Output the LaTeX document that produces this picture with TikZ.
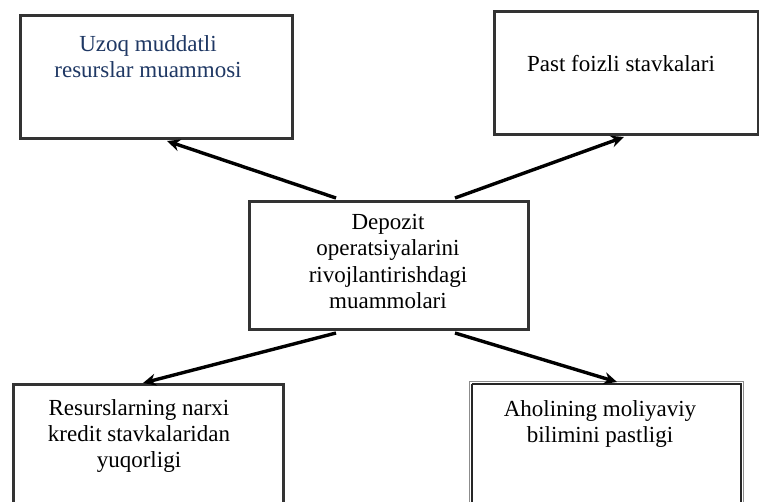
\documentclass[tikz,border=0pt]{standalone}
\usepackage{fontspec}
\setmainfont{Liberation Serif}
\usetikzlibrary{calc,arrows.meta}
\definecolor{navy}{RGB}{31,56,100}
\tikzset{
  box/.style={draw=black!80,line width=3pt,fill=white,inner sep=0pt,anchor=north west},
  txt/.style={align=center,font=\fontsize{23}{26}\selectfont,inner sep=0pt,anchor=base},
  arr/.style={line width=3.4pt,-{Stealth[length=13pt,width=12pt]}}
}
\begin{document}
\begin{tikzpicture}[x=1pt,y=-1pt]
\useasboundingbox[fill=white] (0,0) rectangle (759,502);
% boxes
\node[box,minimum width=272pt,minimum height=123pt] (tl) at (19,14) {};
\node[box,minimum width=264pt,minimum height=123pt] (tr) at (493,10) {};
\node[box,minimum width=279pt,minimum height=128pt] (c) at (248,200) {};
\node[box,minimum width=270pt,minimum height=140pt] (bl) at (12,383) {};
\node[box,draw=black!45,line width=1pt,minimum width=274pt,minimum height=140pt] (br) at (469,381) {};
\draw[black!85,line width=2.4pt] ($(br.north west)+(3,3)$) -- ($(br.north east)+(-3,3)$) -- ($(br.south east)+(-3,0)$)
  ($(br.north west)+(3,3)$) -- ($(br.south west)+(3,0)$);
% texts (anchored at baseline of last line)
\node[txt,text=navy] (ttl) at (148,78) {Uzoq muddatli\\resurslar muammosi};
\node[txt] (ttr) at (621,72) {Past foizli stavkalari};
\node[txt] (tc) at (388,308) {Depozit\\operatsiyalarini\\rivojlantirishdagi\\muammolari};
\node[txt] (tbl) at (139,467) {Resurslarning narxi\\kredit stavkalaridan\\yuqorligi};
\node[txt] (tbr) at (600,442) {Aholining moliyaviy\\bilimini pastligi};
% connectors
\coordinate (c1) at ($(c.north west)+(88,-2)$);
\coordinate (c2) at ($(c.north west)+(207,-2)$);
\coordinate (c3) at ($(c.south west)+(88,2)$);
\coordinate (c4) at ($(c.south west)+(207,2)$);
\coordinate (e1) at ($(tl.south west)+(148,1)$);
\coordinate (e2) at ($(tr.south west)+(131,1)$);
\coordinate (e3) at ($(bl.north west)+(131,0)$);
\coordinate (e4) at ($(br.north west)+(148,1)$);
\draw[arr] (c1) -- (e1);
\draw[arr] (c2) -- (e2);
\draw[arr] (c3) -- (e3);
\draw[arr] (c4) -- (e4);
\end{tikzpicture}
\end{document}
